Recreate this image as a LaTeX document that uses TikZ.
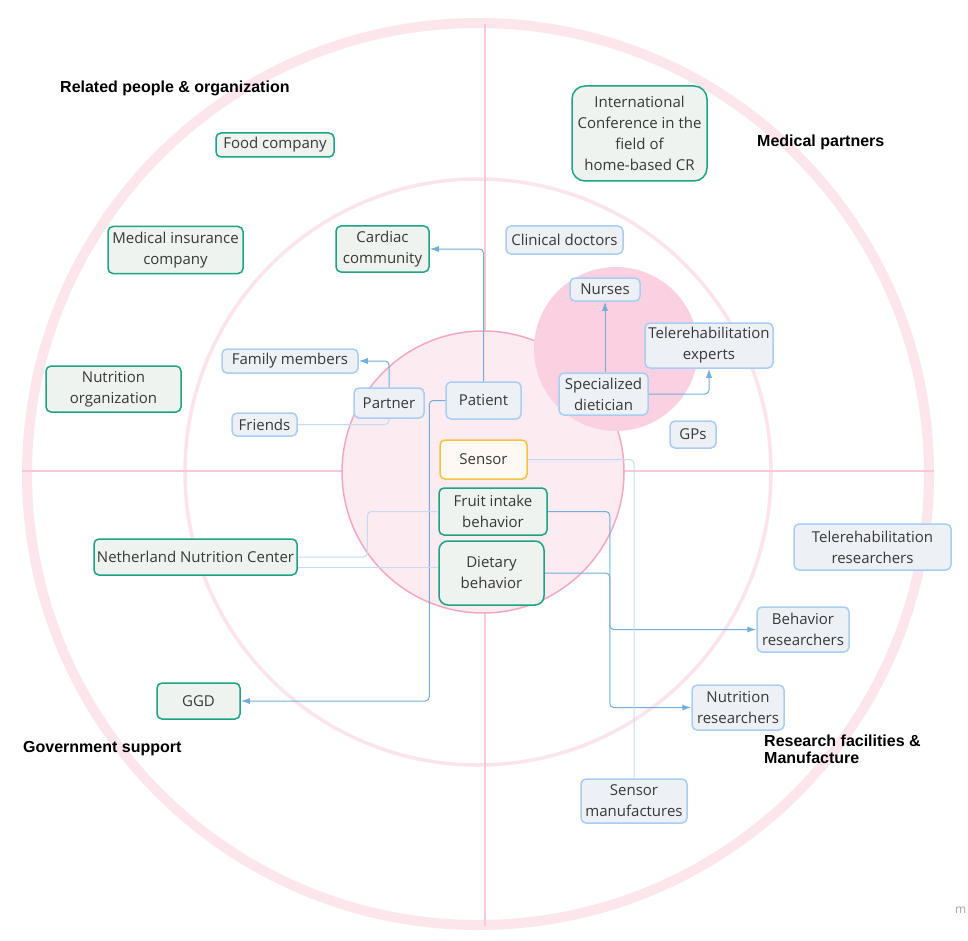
\documentclass[tikz,border=0pt]{standalone}
\usepackage{fontspec}
\setmainfont{Open Sans}
\newfontfamily\labfont{Liberation Sans}
\usetikzlibrary{arrows.meta}
\definecolor{ringpink}{HTML}{FDE5EC}
\definecolor{midpink}{HTML}{FDE4EC}
\definecolor{axispink}{HTML}{FAC8D8}
\definecolor{innerfill}{HTML}{FCEBF1}
\definecolor{innerdraw}{HTML}{F6A8C2}
\definecolor{smallfill}{HTML}{FBD0E0}
\definecolor{gfill}{HTML}{EEF3EF}
\definecolor{gdraw}{HTML}{1DA385}
\definecolor{bfill}{HTML}{EDF1F5}
\definecolor{bdraw}{HTML}{A9CDF3}
\definecolor{yfill}{HTML}{FEFAF3}
\definecolor{ydraw}{HTML}{F8C23F}
\definecolor{arrblue}{HTML}{72AEDC}
\definecolor{lightblue}{HTML}{C4DCF1}
\definecolor{txt}{HTML}{383838}
\tikzset{
  box/.style={rounded corners=5pt, line width=1.5pt, inner sep=0pt, align=center,
    text=txt, font=\fontsize{15}{21}\selectfont},
  gbox/.style={box, fill=gfill, draw=gdraw},
  bbox/.style={box, fill=bfill, draw=bdraw},
  ybox/.style={box, fill=yfill, draw=ydraw},
  sz/.style n args={2}{minimum width=#1pt, minimum height=#2pt},
  arr/.style={draw=arrblue, line width=1pt, rounded corners=4pt, -{Latex[length=9pt,width=6pt]}},
  faint/.style={draw=lightblue, line width=1pt, rounded corners=4pt},
  cat/.style={font=\labfont\bfseries\fontsize{16}{17.5}\selectfont, text=black, inner sep=0pt, align=left}
}
\begin{document}
\begin{tikzpicture}[x=1pt,y=-1pt]
\useasboundingbox (0,0) rectangle (968,941);
\fill[white] (0,0) rectangle (968,941);
% rings
\draw[ringpink, line width=10pt] (478,474) circle[radius=451pt];
\draw[midpink, line width=3.5pt] (478,472) circle[radius=293pt];
\draw[axispink, line width=2.5pt] (22,471) -- (934,471);
\draw[axispink, line width=2pt] (485,24) -- (485,926);
\draw[fill=innerfill, draw=innerdraw, line width=1.5pt] (483,472) circle[radius=141pt];
\fill[smallfill] (616,349) circle[radius=82pt];

% category labels
\node[cat, anchor=west] (lrel) at (60,88) {Related people \& organization};
\node[cat, anchor=west] (lmed) at (757,142) {Medical partners};
\node[cat, anchor=west] (lgov) at (23,749) {Government support};
\node[cat, anchor=west] (lres) at (764,749.5) {Research facilities \&\\Manufacture};

% nodes
\node[gbox, sz={118}{24}] (food) at (275,145) {Food company};
\node[gbox, sz={135}{47}] (insur) at (175.5,250) {Medical insurance\\company};
\node[gbox, sz={135}{46}] (nutorg) at (113.5,389) {Nutrition\\organization};
\node[gbox, sz={93}{46}] (cardiac) at (382.5,249) {Cardiac\\community};
\node[bbox, sz={136}{24}] (family) at (290,361) {Family members};
\node[bbox, sz={65}{23}] (friends) at (264.5,424.5) {Friends};
\node[bbox, sz={70}{30}] (partner) at (389,403) {Partner};
\node[bbox, sz={75}{37}] (patient) at (483.5,400.5) {Patient};
\node[ybox, sz={87}{39}] (sensor) at (483.5,459.5) {Sensor};
\node[gbox, sz={108}{47}] (fruit) at (493,511.5) {Fruit intake\\behavior};
\node[gbox, sz={105}{64}, rounded corners=9pt] (dietary) at (491.5,573) {Dietary\\behavior};
\node[gbox, sz={203}{36}] (nnc) at (195.5,557) {Netherland Nutrition Center};
\node[gbox, sz={83}{36}] (ggd) at (198.5,701) {GGD};
\node[gbox, sz={135}{95}, rounded corners=13pt] (conf) at (639.5,133.5) {International\\Conference in the\\field of\\home-based CR};
\node[bbox, sz={117}{28}] (clin) at (564.5,240) {Clinical doctors};
\node[bbox, sz={70}{23}] (nurses) at (605,289.5) {Nurses};
\node[bbox, sz={128}{45}] (teleexp) at (709,345.5) {Telerehabilitation\\experts};
\node[bbox, sz={89}{42}] (spec) at (603.5,394) {Specialized\\dietician};
\node[bbox, sz={46}{27}] (gps) at (693,434.5) {GPs};
\node[bbox, sz={157}{46}] (teleres) at (872.5,547) {Telerehabilitation\\researchers};
\node[bbox, sz={92}{45}] (behres) at (803,629.5) {Behavior\\researchers};
\node[bbox, sz={92}{45}] (nutres) at (738,707.5) {Nutrition\\researchers};
\node[bbox, sz={106}{44}] (sensman) at (634,801) {Sensor\\manufactures};
\node[text=black!35, font=\fontsize{12}{12}\selectfont, anchor=west, inner sep=0pt] (wm) at (955,910) {m};

% connectors
\draw[arr] (patient.north) |- (cardiac.east);
\draw[arr] (partner.north) |- (family.east);
\draw[faint] (partner.south) |- (friends.east);
\draw[arr] (patient.west) -- ++(-16,0) |- (ggd.east);
\draw[faint] (fruit.west) -- ++(-71,0) |- (nnc.east);
\draw[faint] ([yshift=-10pt]nnc.east) -- ([yshift=-10pt]nnc.east -| dietary.west);
\draw[arr] (fruit.east) -- ++(62,0) |- (behres.west);
\draw[arr] (dietary.east) -- ++(65,0) |- (nutres.west);
\draw[faint] (sensor.east) -| (sensman.north);
\draw[arr] (nurses.south |- spec.north) -- (nurses.south);
\draw[arr] (spec.east) -| (teleexp.south);
\end{tikzpicture}
\end{document}
